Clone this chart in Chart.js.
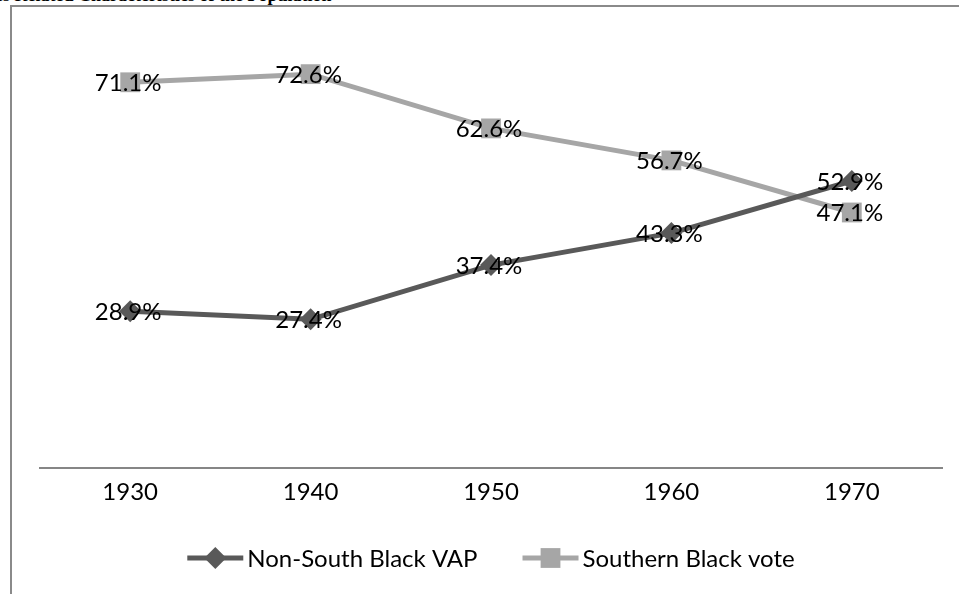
<!DOCTYPE html>
<html>
<head>
<meta charset="utf-8">
<script src="https://cdn.jsdelivr.net/npm/chart.js@4.4.1/dist/chart.umd.min.js"></script>
<style>
body{margin:0;background:#fff;overflow:hidden}
#wrap{position:relative;width:959px;height:594px;overflow:hidden}
#cap{position:absolute;left:-10px;top:-15px;font:bold 18px "Liberation Serif",serif;white-space:nowrap;color:#000}
#frame{position:absolute;left:10px;top:5px;width:960px;height:600px;border-left:2px solid #8a8a8a;border-top:2px solid #8a8a8a}
#grafica{position:absolute;left:0;top:0}
</style>
</head>
<body>
<div id="wrap">
  <div id="cap">ies Related Characteristics of the Population</div>
  <div id="frame"></div>
  <canvas id="grafica" width="959" height="594"></canvas>
</div>
<script>
// datos
const years = ['1930', '1940', '1950', '1960', '1970']
const nonSouth = [28.9, 27.4, 37.4, 43.3, 52.9]
const southern = [71.1, 72.6, 62.6, 56.7, 47.1]
const seriesNames = ['Non-South Black VAP', 'Southern Black vote']
const colors = ['#595959', '#a6a6a6']
const styles = ['rectRot', 'rect']
const radii = [11, 14]

const font = '24px Lato'

// etiquetas de datos sobre cada punto
const dataLabels = {
    id: 'dataLabels',
    afterDatasetsDraw(chart) {
        const ctx = chart.ctx
        ctx.save()
        ctx.font = font
        ctx.fillStyle = '#000'
        ctx.textAlign = 'center'
        ctx.textBaseline = 'middle'
        chart.data.datasets.forEach((ds, i) => {
            chart.getDatasetMeta(i).data.forEach((pt, j) => {
                ctx.fillText(ds.data[j].toFixed(1) + '%', pt.x - 2, pt.y + 1)
            })
        })
        ctx.restore()
    }
}

// leyenda estilo Excel: línea + marcador
const lineLegend = {
    id: 'lineLegend',
    afterDraw(chart) {
        const ctx = chart.ctx
        const y = 558
        ctx.save()
        ctx.font = font
        const items = chart.data.datasets.map(ds => ({ ds, w: 56 + 4 + ctx.measureText(ds.label).width }))
        const total = items.reduce((s, it) => s + it.w, 0) + 45 * (items.length - 1)
        let x = (chart.chartArea.left + chart.chartArea.right) / 2 - total / 2
        items.forEach(it => {
            const ds = it.ds
            ctx.strokeStyle = ds.borderColor
            ctx.lineWidth = 5
            ctx.beginPath()
            ctx.moveTo(x, y)
            ctx.lineTo(x + 56, y)
            ctx.stroke()
            ctx.fillStyle = ds.backgroundColor
            Chart.helpers.drawPoint(ctx, { pointStyle: ds.pointStyle, radius: ds.pointRadius, rotation: 0, borderWidth: 0 }, x + 28, y)
            ctx.fillStyle = '#000'
            ctx.textBaseline = 'middle'
            ctx.textAlign = 'left'
            ctx.fillText(ds.label, x + 60, y + 1)
            x += it.w + 45
        })
        ctx.restore()
    }
}

const series = [nonSouth, southern]

const data = {
    labels: years,
    datasets: series.map((vals, i) => ({
        label: seriesNames[i],
        data: vals,
        borderColor: colors[i],
        backgroundColor: colors[i],
        borderWidth: 5,
        pointStyle: styles[i],
        pointRadius: radii[i],
        pointBorderWidth: 0,
        tension: 0
    }))
}

const config = {
    type: 'line',
    data: data,
    options: {
        responsive: false,
        animation: false,
        layout: { padding: { left: 40, right: 17, top: 34, bottom: 0 } },
        plugins: {
            legend: { display: false },
            tooltip: { enabled: false }
        },
        scales: {
            x: {
                offset: true,
                grid: { display: false, drawTicks: false },
                border: { display: true, color: '#868686', width: 2 },
                ticks: { font: { family: 'Lato', size: 24 }, color: '#000', padding: 10 },
                afterFit: s => { s.height = 126 }
            },
            y: {
                display: false,
                min: 0,
                max: 80
            }
        }
    },
    plugins: [dataLabels, lineLegend]
}

new Chart(document.querySelector('#grafica'), config)
</script>
</body>
</html>
